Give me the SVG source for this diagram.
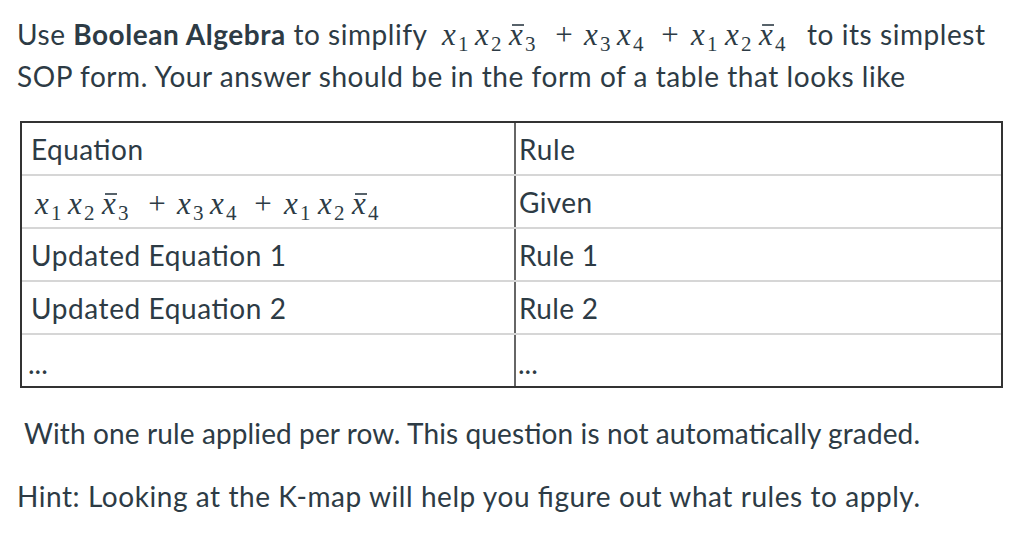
<svg xmlns="http://www.w3.org/2000/svg" width="1024" height="543" viewBox="0 0 1024 543">
<style>
.t{font-family:Lato,"Open Sans",sans-serif;font-size:28px;fill:#2d3b45}
.m{font-family:"Liberation Serif",serif;font-style:italic;fill:#2d3b45}
.n{font-family:"Liberation Serif",serif;fill:#2d3b45}
.ov{stroke:#2d3b45;stroke-width:1.6}
.rl{stroke:#d6d6d6;stroke-width:2}
</style>
<rect width="1024" height="543" fill="#fff"/>
<text class="t" x="17" y="45" textLength="410">Use <tspan font-weight="bold">Boolean Algebra</tspan> to simplify</text>
<g id="math-header" font-size="31" transform="translate(407,-169)">
<text class="m" y="214"><tspan x="35">x</tspan><tspan x="68">x</tspan><tspan x="102">x</tspan><tspan x="177">x</tspan><tspan x="210">x</tspan><tspan x="284">x</tspan><tspan x="318">x</tspan><tspan x="352">x</tspan></text>
<text class="n" y="220" font-size="21"><tspan x="51">1</tspan><tspan x="84">2</tspan><tspan x="118">3</tspan><tspan x="193">3</tspan><tspan x="226">4</tspan><tspan x="300">1</tspan><tspan x="334">2</tspan><tspan x="368">4</tspan></text>
<text class="n" y="214" font-size="31" text-anchor="middle"><tspan x="157">+</tspan><tspan x="263">+</tspan></text>
<line class="ov" x1="105" y1="194" x2="117" y2="194"/>
<line class="ov" x1="355" y1="194" x2="367" y2="194"/>
</g>
<text class="t" x="807" y="45" textLength="178">to its simplest</text>
<text class="t" x="17" y="87" textLength="888">SOP form. Your answer should be in the form of a table that looks like</text>
<g id="table">
<rect x="21" y="122" width="981" height="265" fill="none" stroke="#333" stroke-width="2"/>
<line x1="515" y1="122" x2="515" y2="387" stroke="#333" stroke-width="1.5"/>
<line class="rl" x1="22" y1="175" x2="1001" y2="175"/>
<line class="rl" x1="22" y1="228" x2="1001" y2="228"/>
<line class="rl" x1="22" y1="281" x2="1001" y2="281"/>
<line class="rl" x1="22" y1="334" x2="1001" y2="334"/>
<text class="t" x="31" y="160" textLength="112">Equation</text>
<text class="t" x="519" y="160" textLength="56">Rule</text>
<g id="math-table" font-size="31">
<text class="m" y="214"><tspan x="35">x</tspan><tspan x="68">x</tspan><tspan x="102">x</tspan><tspan x="177">x</tspan><tspan x="210">x</tspan><tspan x="284">x</tspan><tspan x="318">x</tspan><tspan x="352">x</tspan></text>
<text class="n" y="220" font-size="21"><tspan x="51">1</tspan><tspan x="84">2</tspan><tspan x="118">3</tspan><tspan x="193">3</tspan><tspan x="226">4</tspan><tspan x="300">1</tspan><tspan x="334">2</tspan><tspan x="368">4</tspan></text>
<text class="n" y="214" font-size="31" text-anchor="middle"><tspan x="157">+</tspan><tspan x="263">+</tspan></text>
<line class="ov" x1="105" y1="194" x2="117" y2="194"/>
<line class="ov" x1="355" y1="194" x2="367" y2="194"/>
</g>
<text class="t" x="519" y="213" textLength="73">Given</text>
<text class="t" x="31" y="266" textLength="255">Updated Equation 1</text>
<text class="t" x="519" y="266" textLength="79">Rule 1</text>
<text class="t" x="31" y="319" textLength="255">Updated Equation 2</text>
<text class="t" x="519" y="319" textLength="79">Rule 2</text>
<text class="t" x="28" y="374" font-size="18">...</text>
<text class="t" x="518" y="374" font-size="18">...</text>
</g>
<text class="t" x="24" y="444" textLength="896">With one rule applied per row. This question is not automatically graded.</text>
<text class="t" x="17" y="507" textLength="903">Hint: Looking at the K-map will help you figure out what rules to apply.</text>
</svg>
